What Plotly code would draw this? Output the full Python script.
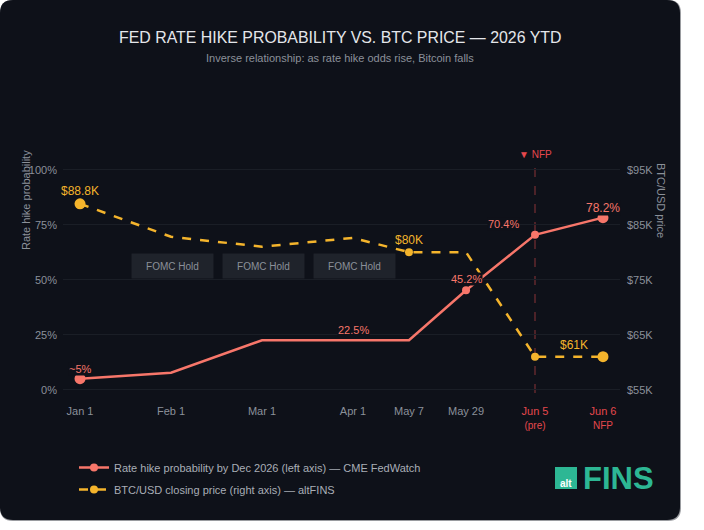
import plotly.graph_objects as go

# ---------------- data ----------------
categories = ["Jan 1", "Feb 1", "Mar 1", "Apr 1", "May 7", "May 29", "Jun 5", "Jun 6"]
tick_labels = ["Jan 1", "Feb 1", "Mar 1", "Apr 1", "May 7", "May 29",
               "Jun 5<br><span style='font-size:10px'>(pre)</span>",
               "Jun 6<br><span style='font-size:10px'>NFP</span>"]
hike_prob = [5.0, 7.7, 22.5, 22.5, 22.5, 45.2, 70.4, 78.2]      # %
btc_price = [88.8, 82.8, 81.0, 82.6, 80.0, 80.0, 61.0, 61.0]    # $K
hike_labels = {0: "~5%", 3: "22.5%", 5: "45.2%", 6: "70.4%", 7: "78.2%"}
btc_labels = {0: "$88.8K", 4: "$80K", 7: "$61K"}
fomc_at = [1, 2, 3]
pct_ticks = [0, 25, 50, 75, 100]
btc_ticks = [55, 65, 75, 85, 95]

# ---------------- layout helpers ----------------
W, H = 704, 530
ML, MR, MT, MB = 63, 84, 165, 137
PW, PH = W - ML - MR, H - MT - MB
x_pos = [0, 1, 2, 3, 3.615, 4.242, 5.0, 5.747]   # uneven spacing of the category axis
x_rng = [-0.187, 5.934]
y_rng = [-1.5, -1.5 + PH / 2.2]
to_btc = lambda p: 55 + p * 0.4
y2_rng = [to_btc(y_rng[0]), to_btc(y_rng[1])]


def px(x):
    return (x - ML) / PW


def py(y):
    return (H - MB - y) / PH


RED = "#f7766a"
YEL = "#f4b42c"
GRAY = "#8b9099"
NFPRED = "#e5484d"
CARD = "#0e1119"
FONT = "Liberation Sans, Arial, sans-serif"


def rrect(x0, y0, x1, y1, r):
    rx, ry = r / PW, r / PH
    X0, X1 = px(x0), px(x1)
    Y0, Y1 = py(y0), py(y1)  # Y0 top, Y1 bottom
    return (f"M {X0+rx},{Y0} L {X1-rx},{Y0} Q {X1},{Y0} {X1},{Y0-ry} "
            f"L {X1},{Y1+ry} Q {X1},{Y1} {X1-rx},{Y1} L {X0+rx},{Y1} "
            f"Q {X0},{Y1} {X0},{Y1+ry} L {X0},{Y0-ry} Q {X0},{Y0} {X0+rx},{Y0} Z")


fig = go.Figure()

red_sizes = [11, 0, 0, 0, 0, 8, 8, 11]
yel_sizes = [11, 0, 0, 0, 8, 0, 8, 11]

fig.add_trace(go.Scatter(x=x_pos, y=btc_price, yaxis="y2", mode="lines+markers",
                         line=dict(color=YEL, width=2.5, dash="dash"),
                         marker=dict(color=YEL, size=yel_sizes, opacity=1, line=dict(width=0)),
                         showlegend=False, hoverinfo="skip"))
fig.add_trace(go.Scatter(x=x_pos, y=hike_prob, mode="lines+markers",
                         line=dict(color=RED, width=2.5),
                         marker=dict(color=RED, size=red_sizes, opacity=1, line=dict(width=0)),
                         showlegend=False, hoverinfo="skip"))
# legend entries
fig.add_trace(go.Scatter(x=[None], y=[None], mode="lines+markers",
                         line=dict(color=RED, width=2.5),
                         marker=dict(color=RED, size=8, opacity=1, line=dict(width=0)),
                         name="Rate hike probability by Dec 2026 (left axis) — CME FedWatch",
                         legendgroup="a"))
fig.add_trace(go.Scatter(x=[None], y=[None], mode="lines+markers",
                         line=dict(color=YEL, width=2.5, dash="dash"),
                         marker=dict(color=YEL, size=8, opacity=1, line=dict(width=0)),
                         name="BTC/USD closing price (right axis) — altFINS",
                         legendgroup="b"))

shapes = [
    dict(type="path", xref="paper", yref="paper", path=rrect(0, 0, 681, 521, 13),
         fillcolor="#9a9ca0", line=dict(width=0), layer="below"),
    dict(type="path", xref="paper", yref="paper", path=rrect(0, 0, 680, 520, 13),
         fillcolor=CARD, line=dict(width=0), layer="below"),
    dict(type="line", xref="x", yref="paper", x0=x_pos[6], x1=x_pos[6], y0=0, y1=1,
         line=dict(color="#8a3438", width=1, dash="dash"), layer="below"),
    dict(type="rect", xref="paper", yref="paper", x0=px(555), x1=px(577), y0=py(489), y1=py(467),
         fillcolor="#2db794", line=dict(width=0)),
]


def pa(text, x, y, size, color, **kw):
    d = dict(text=text, xref="paper", yref="paper", x=px(x), y=py(y), showarrow=False,
             yanchor="middle", font=dict(family=FONT, size=size, color=color))
    d.update(kw)
    return d


ann = []
ann.append(pa("FED RATE HIKE PROBABILITY VS. BTC PRICE — 2026 YTD", 340, 37, 15.9, "#e4e6ea"))
ann.append(pa("Inverse relationship: as rate hike odds rise, Bitcoin falls", 340, 58, 11, GRAY))
ann.append(pa("Rate hike probability", 26, 200, 11, GRAY, textangle=-90, xanchor="center"))
ann.append(pa("BTC/USD price", 661, 200, 11, GRAY, textangle=90, xanchor="center"))
ann.append(dict(text="▼ NFP", xref="x", yref="paper", x=x_pos[6], y=py(154), yanchor="middle",
                showarrow=False, font=dict(family=FONT, size=10, color=NFPRED)))
# FOMC hold boxes
for i in fomc_at:
    ann.append(dict(text="FOMC Hold", xref="x", yref="y", x=x_pos[i], y=56.4, xshift=1.5,
                    showarrow=False, bgcolor="#1f232b", width=79, height=22,
                    font=dict(family=FONT, size=10, color=GRAY)))
# data labels
hike_shift = {0: (0, 10), 3: (0, 10), 5: (0, 11), 6: (-32, 11), 7: (0, 10)}
for i, t in hike_labels.items():
    dx, dy = hike_shift[i]
    ann.append(dict(text=t, xref="x", yref="y", x=x_pos[i], y=hike_prob[i], xshift=dx, yshift=dy,
                    showarrow=False, bgcolor=CARD, borderpad=0,
                    font=dict(family=FONT, size=12 if i == 7 else 11, color=RED)))
btc_shift = {0: (0, 13), 4: (0, 12), 7: (-29, 12)}
for i, t in btc_labels.items():
    dx, dy = btc_shift[i]
    ann.append(dict(text=t, xref="x", yref="y2", x=x_pos[i], y=btc_price[i], xshift=dx, yshift=dy,
                    showarrow=False, borderpad=0,
                    font=dict(family=FONT, size=12, color=YEL)))
# logo
ann.append(pa("<b>alt</b>", 566, 483, 10, "#ffffff", xanchor="center"))
ann.append(pa("<b>FINS</b>", 581, 478, 31, "#2db794", xanchor="left"))

fig.update_layout(
    width=W, height=H,
    margin=dict(l=ML, r=MR, t=MT, b=MB, pad=0),
    paper_bgcolor="#ffffff", plot_bgcolor="rgba(0,0,0,0)",
    font=dict(family=FONT, size=11, color=GRAY),
    xaxis=dict(range=x_rng, tickmode="array", tickvals=x_pos, ticktext=[
        (f"<span style='color:{NFPRED}'>{t}</span>" if k >= 6 else t) for k, t in enumerate(tick_labels)],
        showgrid=False, zeroline=False, showline=False, ticks="", ticklabelstandoff=10,
        tickfont=dict(family=FONT, size=11, color=GRAY), fixedrange=True),
    yaxis=dict(range=y_rng, tickmode="array", tickvals=pct_ticks, ticktext=[f"{v}%" for v in pct_ticks],
               showgrid=True, gridcolor="#1a1e26", gridwidth=1, zeroline=False, showline=False,
               ticks="", ticklabelstandoff=5, tickfont=dict(family=FONT, size=11, color=GRAY)),
    yaxis2=dict(range=y2_rng, overlaying="y", side="right", tickmode="array", tickvals=btc_ticks,
                ticktext=[f"${v}K" for v in btc_ticks], showgrid=False, zeroline=False, showline=False,
                ticks="", ticklabelstandoff=6, tickfont=dict(family=FONT, size=11, color=GRAY)),
    legend=dict(orientation="v", x=px(74), y=py(453), xanchor="left", yanchor="top",
                bgcolor="rgba(0,0,0,0)", font=dict(family=FONT, size=11, color="#a9aeb6"),
                tracegroupgap=3, itemwidth=30, traceorder="grouped"),
    shapes=shapes, annotations=ann,
    showlegend=True,
)

fig.write_html("out.html")
